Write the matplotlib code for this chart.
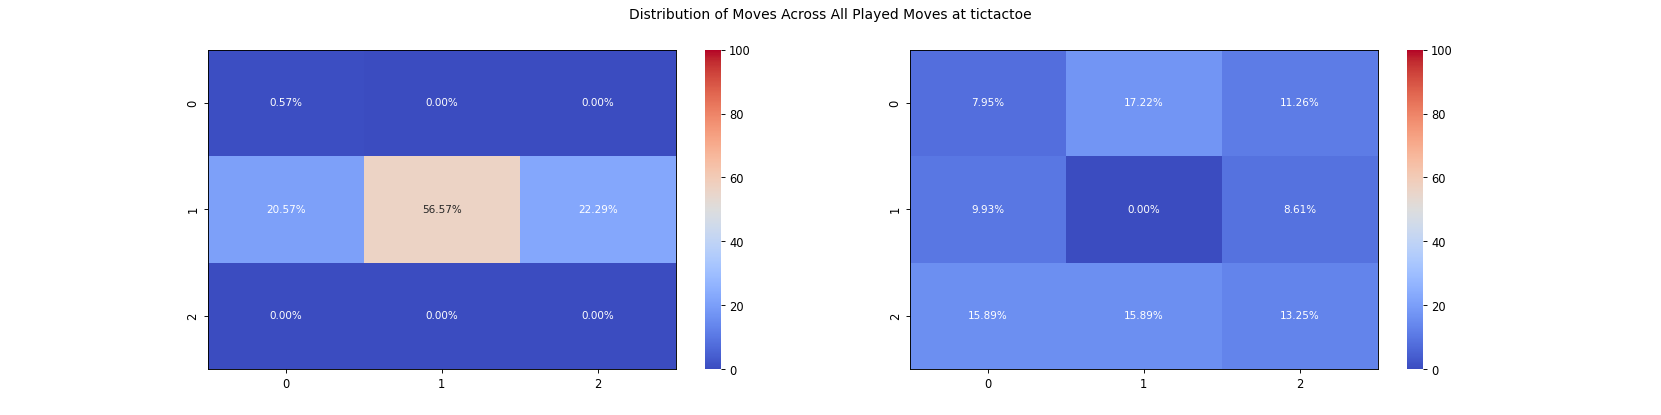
import matplotlib
matplotlib.use('Agg')
import matplotlib.pyplot as plt
import seaborn as sns
import numpy as np

title = 'Distribution of Moves Across All Played Moves at tictactoe'
ticks = ['0', '1', '2']

# percent of moves per cell, row by row
left_moves = [[0.57, 0.00, 0.00],
              [20.57, 56.57, 22.29],
              [0.00, 0.00, 0.00]]
right_moves = [[7.95, 17.22, 11.26],
               [9.93, 0.00, 8.61],
               [15.89, 15.89, 13.25]]

fig, axes = plt.subplots(1, 2, figsize=(20, 5), dpi=83.05)

for ax, moves in zip(axes, [left_moves, right_moves]):
    data = np.array(moves)
    labels = np.array([['%.2f%%' % v for v in row] for row in moves])
    sns.heatmap(data, ax=ax, cmap='coolwarm', vmin=0, vmax=100,
                annot=labels, fmt='', annot_kws={'size': 9},
                xticklabels=ticks, yticklabels=ticks)
    for spine in ax.spines.values():
        spine.set_visible(True)
    ax.set_yticklabels(ticks, rotation=90, va='center')

fig.suptitle(title)
plt.savefig('out.png', dpi=83.05)
